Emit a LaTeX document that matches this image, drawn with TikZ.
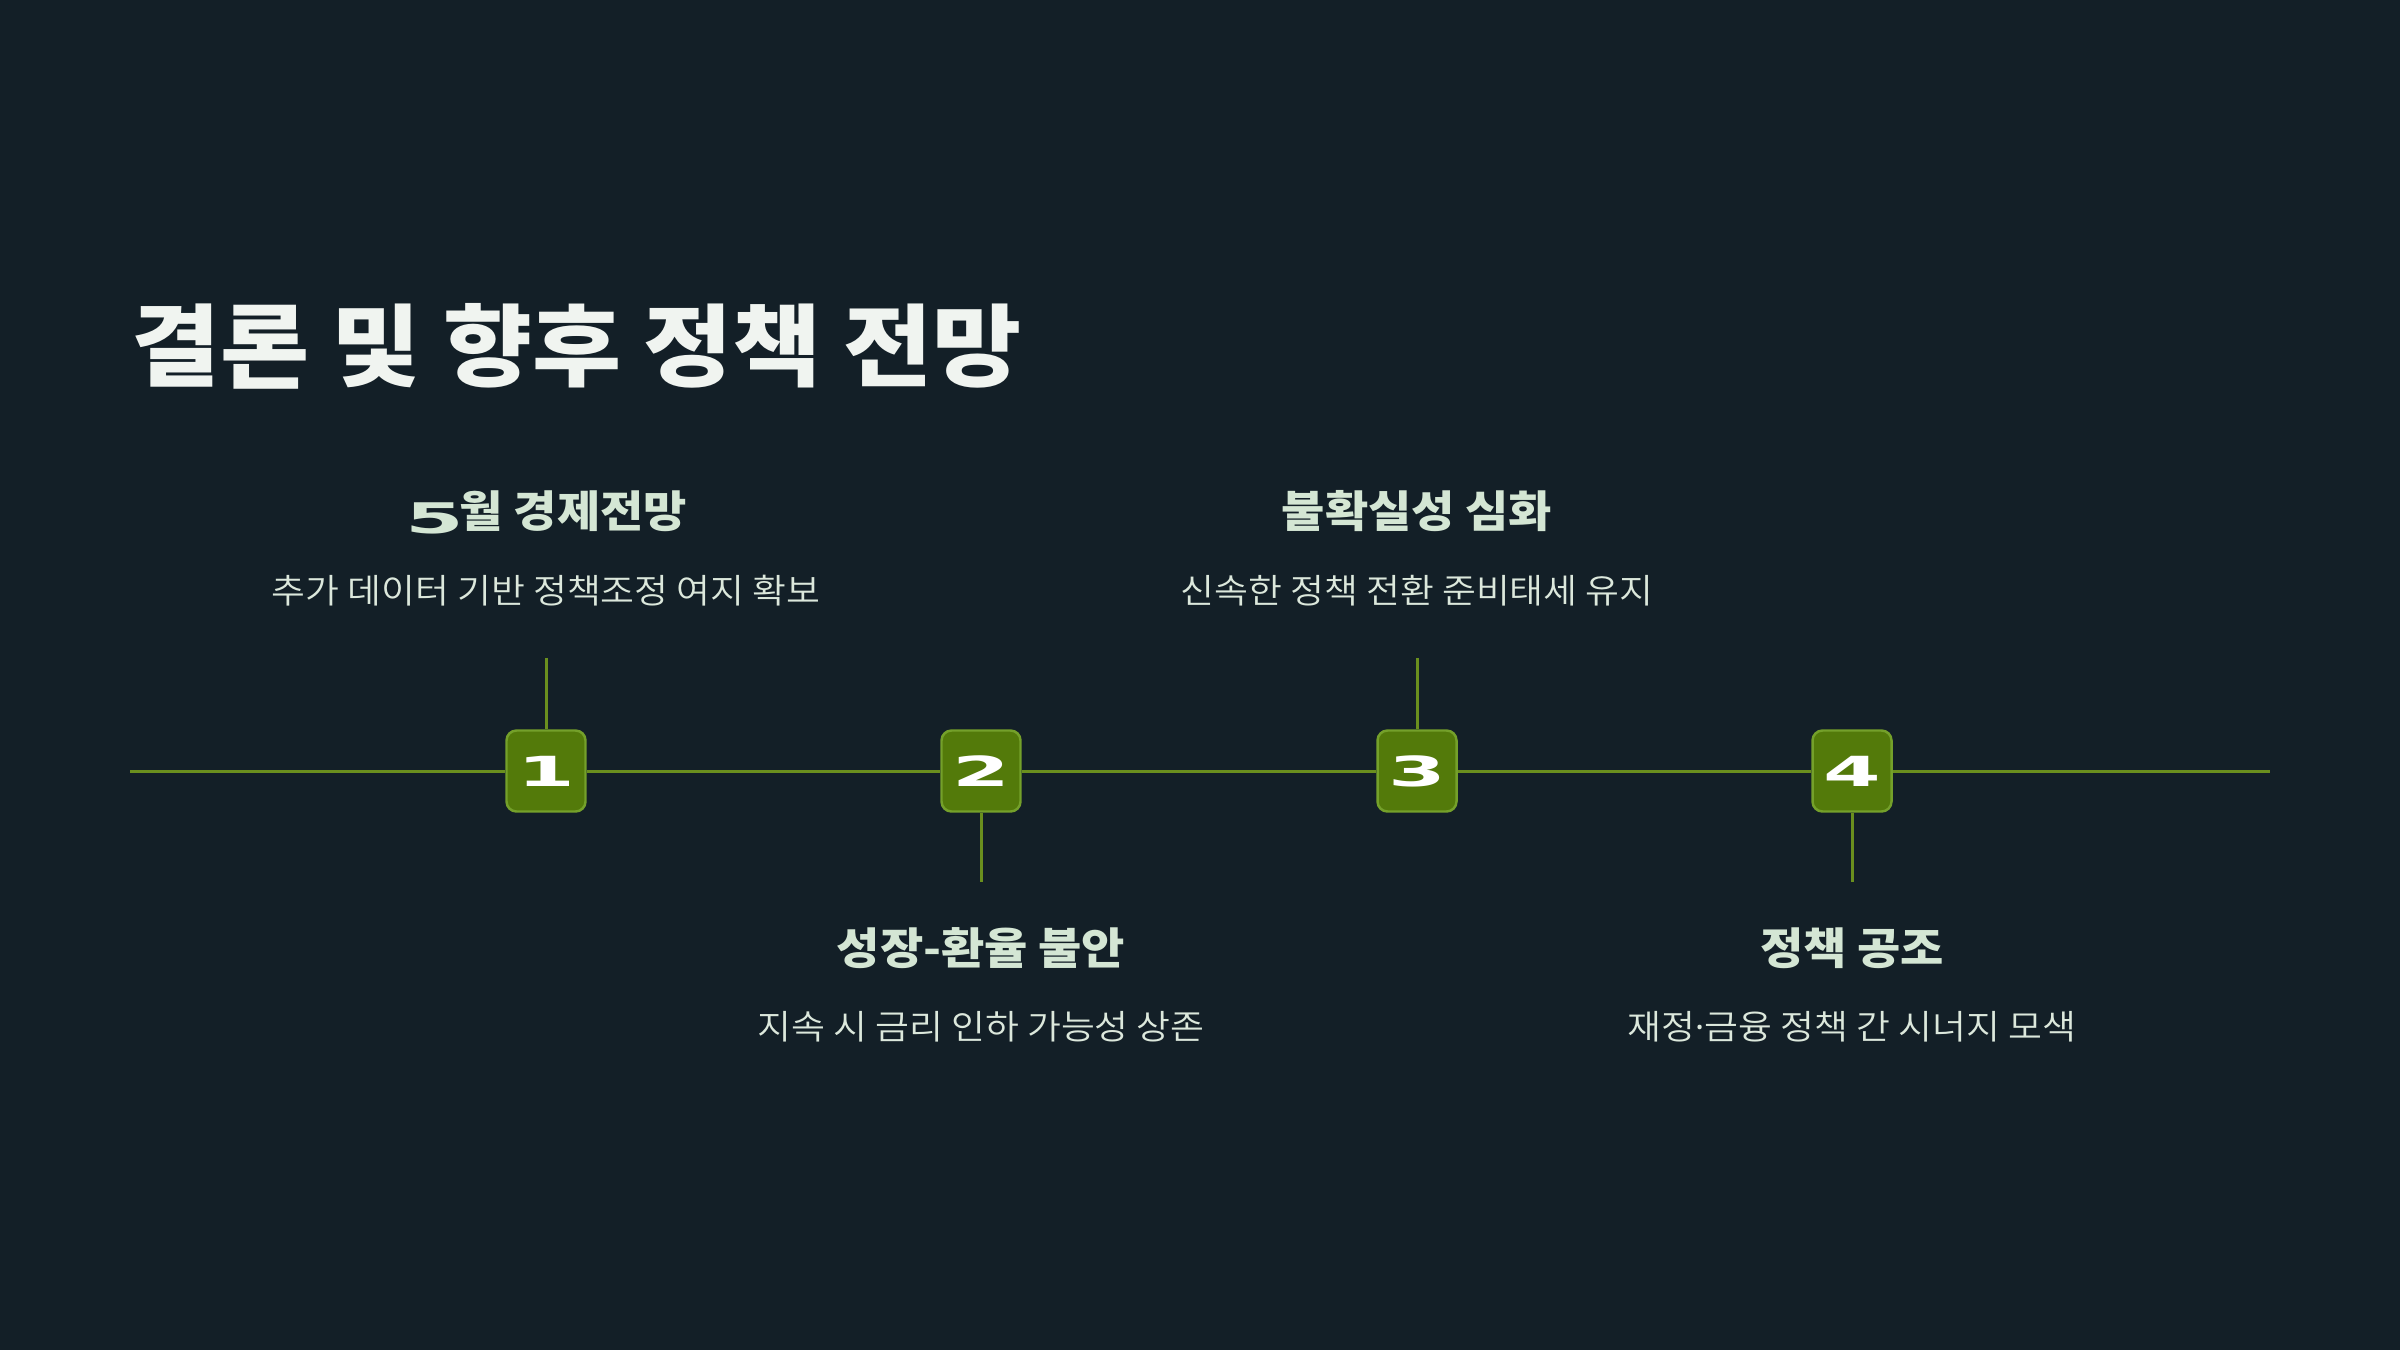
\documentclass[tikz,border=0pt]{standalone}
\usepackage{fontspec}
\setmainfont{Noto Sans CJK KR}[FakeStretch=1.08]
\newfontfamily\lightfont{Noto Sans CJK KR DemiLight}[FakeStretch=1.08]
\newfontfamily\numfont{DejaVu Sans}[FakeStretch=2.0]
\newfontfamily\dotfont{Noto Sans}
\usetikzlibrary{positioning}

\definecolor{bgnavy}{HTML}{131F27}
\definecolor{linegreen}{HTML}{6A8F1E}
\definecolor{boxgreen}{HTML}{537A0A}
\definecolor{boxedge}{HTML}{74A02A}
\definecolor{titlewhite}{HTML}{F0F4F0}
\definecolor{headmint}{HTML}{D4E6D4}
\definecolor{descmint}{HTML}{DCE8DC}

\tikzset{
  stepbox/.style={draw=boxedge, fill=boxgreen, line width=0.7pt, rounded corners=1mm,
    minimum width=7.9mm, minimum height=8.1mm, inner sep=0pt, text=white,
    font=\numfont\bfseries\fontsize{11.8}{12}\selectfont},
  tline/.style={linegreen, line width=0.85pt},
  headtxt/.style={text=headmint, anchor=base, font=\bfseries\fontsize{12.4}{14}\selectfont},
  desctxt/.style={text=descmint, anchor=base, font=\lightfont\fontsize{9.7}{12}\selectfont},
}

\begin{document}
\begin{tikzpicture}[x=0.1mm, y=-0.1mm]
    % Nền
    \fill[bgnavy] (0,0) rectangle (2400,1350);

    % Tiêu đề
    \node[anchor=base west, text=titlewhite, inner sep=0pt,
      font=\bfseries\fontsize{25.5}{30}\selectfont] (title) at (131,379) {결론 및 향후 정책 전망};

    % Các ô số trên trục thời gian
    \foreach \i/\px in {1/546, 2/981, 3/1417, 4/1852} {
        \node[stepbox] (box\i) at (\px,771) {\i};
    }
    \coordinate (lineL) at (130,771);
    \coordinate (lineR) at (2270,771);
    \draw[tline] (lineL) -- (box1) -- (box2) -- (box3) -- (box4) -- (lineR);

    % Vạch nối và chữ (1, 3 ở trên; 2, 4 ở dưới)
    \foreach \i/\px/\ty/\hy/\dy/\head/\desc in {
        1/546/658/527/603/{{\numfont\bfseries\fontsize{12}{12}\selectfont\raisebox{-0.6mm}{5}}\kern-0.4mm 월 경제전망}/{추가 데이터 기반 정책조정 여지 확보},
        2/981/882/964/1039/{성장-환율 불안}/{지속 시 금리 인하 가능성 상존},
        3/1417/658/527/603/{불확실성 심화}/{신속한 정책 전환 준비태세 유지},
        4/1852/882/964/1039/{정책 공조}/{재정{\dotfont ·}금융 정책 간 시너지 모색}} {
        \coordinate (tick\i) at (\px,\ty);
        \draw[tline] (box\i) -- (tick\i);
        \node[headtxt] (head\i) at (\px,\hy) {\head};
        \node[desctxt] (desc\i) at (\px,\dy) {\desc};
    }
\end{tikzpicture}
\end{document}
